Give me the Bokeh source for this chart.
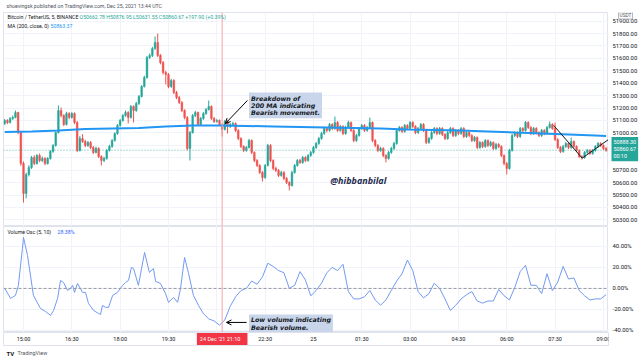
from bokeh.plotting import figure
from bokeh.layouts import column, row
from bokeh.models import (ColumnDataSource, FixedTicker, Span, Label, Arrow, OpenHead, Range1d)
from bokeh.core.properties import value
from bokeh.embed import file_html
from bokeh.resources import INLINE

# ---------------- data (5-minute candles, 24 Dec 14:25 -> 25 Dec 09:05) ----------------
opens = [51076, 51100, 51084, 51116, 51124, 51164, 51003, 50754, 50513, 50666,
         50722, 50802, 50754, 50818, 50778, 50794, 50754, 50794, 50851, 50899,
         51003, 51180, 51140, 51068, 51156, 51124, 51156, 51084, 50859, 50955,
         50931, 50899, 50923, 50883, 50843, 50875, 50810, 50778, 50794, 50859,
         50891, 50939, 50995, 51060, 51100, 51140, 51164, 51124, 51213, 51180,
         51237, 51293, 51374, 51446, 51607, 51623, 51679, 51728, 51623, 51567,
         51486, 51470, 51374, 51422, 51325, 51285, 51245, 51180, 51124, 50875,
         51003, 51140, 51164, 51068, 51116, 51156, 51188, 51213, 51116, 51092,
         51100, 51068, 51028, 51092, 51052, 51068, 51076, 51020, 50955, 50891,
         50859, 50883, 50939, 50843, 50778, 50738, 50682, 50641, 50738, 50899,
         50778, 50714, 50698, 50658, 50682, 50633, 50601, 50577, 50682, 50738,
         50778, 50762, 50802, 50778, 50818, 50843, 50883, 50915, 50955, 50995,
         51036, 51020, 51068, 51036, 51084, 51020, 51052, 50995, 51044, 51084,
         51020, 50939, 50979, 51036, 51060, 51020, 51044, 51084, 50939, 50899,
         50859, 50875, 50818, 50794, 50843, 50875, 50915, 51020, 51044, 51012,
         51060, 51036, 51084, 51052, 51003, 51036, 51068, 51020, 50923, 50955,
         51003, 51036, 50995, 51036, 50987, 50955, 51003, 51036, 50979, 51020,
         50995, 51036, 50971, 51003, 50979, 50939, 50963, 50883, 50923, 50891,
         50939, 50899, 50923, 50875, 50907, 50891, 50818, 50754, 50714, 50859,
         50979, 51003, 50971, 51036, 51020, 51084, 51044, 50995, 51036, 51003,
         50979, 51020, 50995, 51044, 51068, 51036, 50947, 50883, 50851, 50891,
         50915, 50883, 50931, 50891, 50859, 50810, 50802, 50843, 50859, 50835,
         50859, 50891, 50915, 50899, 50875]
closes = [51100, 51084, 51116, 51124, 51164, 51003, 50754, 50513, 50666, 50722,
          50802, 50754, 50818, 50778, 50794, 50754, 50794, 50851, 50899, 51003,
          51180, 51140, 51068, 51156, 51124, 51156, 51084, 50859, 50955, 50931,
          50899, 50923, 50883, 50843, 50875, 50810, 50778, 50794, 50859, 50891,
          50939, 50995, 51060, 51100, 51140, 51164, 51124, 51213, 51180, 51237,
          51293, 51374, 51446, 51607, 51623, 51679, 51728, 51623, 51567, 51486,
          51470, 51374, 51422, 51325, 51285, 51245, 51180, 51124, 50875, 51003,
          51140, 51164, 51068, 51116, 51156, 51188, 51213, 51116, 51092, 51100,
          51068, 51028, 51092, 51052, 51068, 51076, 51020, 50955, 50891, 50859,
          50883, 50939, 50843, 50778, 50738, 50682, 50641, 50738, 50899, 50778,
          50714, 50698, 50658, 50682, 50633, 50601, 50577, 50682, 50738, 50778,
          50762, 50802, 50778, 50818, 50843, 50883, 50915, 50955, 50995, 51036,
          51020, 51068, 51036, 51084, 51020, 51052, 50995, 51044, 51084, 51020,
          50939, 50979, 51036, 51060, 51020, 51044, 51084, 50939, 50899, 50859,
          50875, 50818, 50794, 50843, 50875, 50915, 51020, 51044, 51012, 51060,
          51036, 51084, 51052, 51003, 51036, 51068, 51020, 50923, 50955, 51003,
          51036, 50995, 51036, 50987, 50955, 51003, 51036, 50979, 51020, 50995,
          51036, 50971, 51003, 50979, 50939, 50963, 50883, 50923, 50891, 50939,
          50899, 50923, 50875, 50907, 50891, 50818, 50754, 50714, 50859, 50979,
          51003, 50971, 51036, 51020, 51084, 51044, 50995, 51036, 51003, 50979,
          51020, 50995, 51044, 51068, 51036, 50947, 50883, 50851, 50891, 50915,
          50883, 50931, 50891, 50859, 50810, 50802, 50843, 50859, 50835, 50859,
          50891, 50915, 50899, 50875, 50861]
highs = [51112, 51110, 51128, 51140, 51180, 51170, 51010, 50770, 50680, 50740,
         50815, 50820, 50830, 50835, 50810, 50805, 50805, 50862, 50910, 51012,
         51221, 51205, 51150, 51170, 51168, 51168, 51165, 51095, 50975, 50990,
         50945, 50935, 50935, 50895, 50890, 50885, 50820, 50808, 50870, 50905,
         50950, 51005, 51072, 51112, 51152, 51180, 51175, 51225, 51222, 51250,
         51305, 51385, 51460, 51620, 51640, 51692, 51776, 51800, 51635, 51578,
         51500, 51482, 51435, 51432, 51338, 51298, 51255, 51190, 51135, 51015,
         51152, 51178, 51172, 51128, 51168, 51200, 51261, 51222, 51128, 51112,
         51108, 51078, 51105, 51100, 51080, 51090, 51085, 51030, 50965, 50900,
         50895, 50952, 50948, 50852, 50790, 50748, 50692, 50750, 50912, 50910,
         50788, 50728, 50710, 50695, 50692, 50645, 50612, 50695, 50750, 50790,
         50792, 50815, 50812, 50830, 50855, 50895, 50928, 50968, 51008, 51050,
         51048, 51080, 51078, 51132, 51095, 51065, 51062, 51058, 51098, 51092,
         51030, 50992, 51048, 51072, 51070, 51056, 51124, 51092, 50950, 50910,
         50888, 50885, 50828, 50855, 50888, 50928, 51032, 51056, 51055, 51072,
         51070, 51096, 51094, 51062, 51048, 51080, 51078, 51030, 50968, 51015,
         51048, 51046, 51048, 51046, 50998, 51015, 51048, 51046, 51032, 51030,
         51048, 51046, 51015, 51012, 50990, 50975, 50972, 50935, 50932, 50950,
         50948, 50935, 50932, 50920, 50918, 50900, 50828, 50765, 50872, 50992,
         51015, 51012, 51048, 51046, 51096, 51094, 51054, 51048, 51046, 51012,
         51032, 51030, 51056, 51092, 51078, 51084, 50958, 50894, 50903, 50926,
         50925, 50963, 50940, 50900, 50868, 50820, 50855, 50870, 50868, 50870,
         50902, 50926, 50925, 50908, 50888]
lows = [51064, 51072, 51076, 51104, 51118, 50990, 50735, 50440, 50473, 50650,
        50710, 50740, 50745, 50765, 50765, 50740, 50745, 50785, 50840, 50890,
        50995, 51125, 51055, 51060, 51110, 51115, 51070, 50845, 50850, 50920,
        50885, 50888, 50870, 50830, 50835, 50798, 50738, 50765, 50785, 50850,
        50880, 50930, 50985, 51050, 51090, 51130, 51076, 51115, 51084, 51170,
        51225, 51285, 51365, 51436, 51595, 51610, 51668, 51610, 51552, 51470,
        51390, 51360, 51362, 51312, 51272, 51232, 51168, 51110, 50859, 50778,
        50995, 51128, 51055, 51060, 51105, 51145, 51180, 51105, 51080, 51082,
        51055, 50971, 51020, 50995, 51040, 51058, 51008, 50942, 50878, 50845,
        50848, 50875, 50830, 50765, 50725, 50670, 50609, 50630, 50730, 50765,
        50700, 50685, 50645, 50648, 50620, 50588, 50537, 50568, 50672, 50728,
        50750, 50752, 50765, 50768, 50808, 50832, 50872, 50905, 50945, 50985,
        51005, 51010, 51022, 51025, 51008, 51010, 50982, 50985, 51035, 51008,
        50925, 50928, 50970, 51025, 51008, 51010, 51035, 50925, 50885, 50845,
        50848, 50805, 50762, 50785, 50832, 50865, 50905, 51010, 51000, 51002,
        51025, 51026, 51040, 50990, 50992, 51025, 51008, 50910, 50912, 50945,
        50992, 50982, 50985, 50975, 50942, 50945, 50992, 50966, 50968, 50982,
        50985, 50958, 50960, 50966, 50926, 50928, 50870, 50872, 50878, 50880,
        50886, 50888, 50862, 50865, 50878, 50805, 50740, 50666, 50705, 50850,
        50968, 50958, 50960, 51008, 51010, 51032, 50982, 50985, 50990, 50966,
        50968, 50982, 50985, 51035, 51025, 50935, 50870, 50838, 50840, 50880,
        50870, 50872, 50878, 50846, 50798, 50786, 50792, 50832, 50822, 50825,
        50848, 50880, 50886, 50862, 50848]

# 200-period moving average, read every 10 candles
ma_idx = [0, 10, 20, 30, 40, 50, 60, 70, 80, 90, 100, 110, 120, 130, 140, 150, 160,
          170, 180, 190, 200, 210, 220, 224]
ma_vals = [51008, 51012, 51020, 51032, 51036, 51040, 51052, 51060, 51060, 51056, 51052,
           51048, 51044, 51040, 51036, 51028, 51024, 51020, 51012, 51003, 50995, 50987,
           50979, 50975]

# Volume oscillator (%), read at the candle positions below
osc_idx = [0, 2.2, 4.0, 5.1, 6.6, 7.0, 8.5, 10.7, 13.3, 15.2, 17.1, 18.2, 19.7, 20.8, 21.9,
           23.4, 24.5, 25.3, 26.0, 27.1, 29.0, 30.1, 31.2, 33.1, 34.9, 35.7, 36.4, 37.5, 38.7,
           40.2, 42.0, 43.9, 45.0, 46.1, 47.2, 48.0, 49.8, 52.1, 53.9, 55.4, 56.2, 58.0, 59.9,
           61.0, 62.9, 64.4, 65.5, 67.0, 68.4, 70.3, 72.2,
           74, 76, 78, 80, 82, 84, 86, 88, 90, 92, 94, 96, 98, 100, 102, 104, 106, 108, 110,
           112, 114, 116, 118, 120, 122, 124, 126, 128, 130, 132, 134, 136, 138, 140, 142, 144,
           146, 148, 150, 152, 154, 156, 158, 160, 162, 164, 166, 168, 170, 172, 174, 176, 178,
           180, 182, 184, 186, 188, 190, 192, 194, 196, 198, 200, 202, 204, 206, 208, 210, 212,
           214, 216, 218, 220, 222, 224]
osc_vals = [0, -9.5, -6.7, 2.9, 38, 48.6, 31.4, -6.7, -19, -22, -25.7, -21, -9.5, 7.6, 5.7,
            -1.9, 0, 2.9, -3.8, 4.8, -3.8, -3.8, -14.3, -21, -23.8, -24.8, -16.2, -18, -18,
            -6.7, -3.8, 2.9, 5.7, 7.6, 20, 19, 2.9, 34.3, 15.2, 19, 6.7, 4.8, -4.8,
            -13.3, -8.6, -13.3, 0, 29.5, 15.2, -6.7, -16.2,
            -24, -29, -31, -35, -30, -17, -8, -2, 0, 7, 4, 11, 24, 21, 17, 15, 0, 3, 16,
            8, -7, -2, 5, 15, 20, 17, 23, -3, -10, -10, -8, -2, -11, -16, -11, -2,
            7, 14, 27, 17, -3, -9, -5, 5, 0, -10, -21, -16, -10, -6, -3, -12, -14,
            -12, -12, -1, -7, -11, 1, 16, 22, 3, 3, -5, 14, -2, 6, 21, 9, 10,
            -2, -7, -11, -10, -10, -6]

# drawn trend line (candle index, price)
trend_x = [204.5, 215.1, 224.9]
trend_y = [51060, 50797, 50947]

tick_idx = [7, 25, 43, 61, 79, 97, 115, 133, 151, 169, 187, 205, 223]
tick_labels = ["15:00", "16:30", "18:00", "19:30", "21:00", "22:30", "25", "01:30",
               "03:00", "04:30", "06:00", "07:30", "09:00"]
price_ticks = [50300, 50400, 50500, 50600, 50700, 50800, 50900, 51000, 51100, 51200,
               51300, 51400, 51500, 51600, 51700, 51800, 51900]
price_tick_labels = ["50300.00", "50400.00", "50500.00", "50600.00", "50700.00", "50800.00",
                     "50900.00", "51000.00", "51100.00", "51200.00", "51300.00", "51400.00",
                     "51500.00", "51600.00", "51700.00", "51800.00", "51900.00"]
osc_ticks = [-40, -20, 0, 20, 40]
osc_tick_labels = ["-40.00%", "-20.00%", "0.00%", "20.00%", "40.00%"]
cursor_idx = 81  # 24 Dec 21:10

# ---------------- styling ----------------
UP, DOWN = "#26a69a", "#ef5350"
GRID, OUTLINE = "#f0f3fa", "#e0e3eb"
TXT = "#131722"
FONT = "Roboto"
LEFT, FW, AXW = 3, 605, 32
H_HDR, FH1, FH2, H_TIME, H_LOGO = 12, 214, 106, 14, 13


def bare(fw, fh, xr, yr, left=0, right=0, outline=None):
    f = figure(frame_width=fw, frame_height=fh, x_range=xr, y_range=yr,
               x_axis_location=None, y_axis_location=None,
               output_backend="svg", toolbar_location=None,
               min_border=0, min_border_left=left, min_border_right=right,
               min_border_top=0, min_border_bottom=0,
               background_fill_color="white", border_fill_color="white",
               outline_line_color=outline)
    f.xgrid.grid_line_color = None
    f.ygrid.grid_line_color = None
    return f


def lab(fig, x, y, text, size, color=TXT, align="left", baseline="middle", style="normal",
        bg=None, pad=0, border=None, font=FONT, lh=1.2):
    fig.add_layout(Label(x=x, y=y, text=text, text_font=font, text_font_size=size,
                         text_color=color, text_align=align, text_baseline=baseline,
                         text_font_style=style, text_line_height=lh,
                         background_fill_color=bg, padding=pad, border_line_color=border))


def texts(fig, xs, ys, labels, size, align="left", color=TXT):
    fig.text(x=xs, y=ys, text=labels, text_font=value(FONT), text_font_size=value(size),
             text_color=color, text_align=value(align), text_baseline=value("middle"))


idx = list(range(len(closes)))
src = ColumnDataSource(dict(
    x=idx, h=highs, l=lows,
    top=[max(o, c) for o, c in zip(opens, closes)],
    bottom=[min(o, c) for o, c in zip(opens, closes)],
    color=[UP if c >= o else DOWN for o, c in zip(opens, closes)],
))

xr = Range1d(-0.45, 224.9)
yr_price = Range1d(50247, 51969)
yr_osc = Range1d(-42, 59)

# ---------------- header strip ----------------
hdr = bare(LEFT + FW + AXW, H_HDR, Range1d(0, LEFT + FW + AXW), Range1d(0, H_HDR))
lab(hdr, 3, 6.5, "shoevingsk published on TradingView.com, Dec 25, 2021 13:44 UTC", "5.2px",
    color="#50535e")

# ---------------- price panel ----------------
p = bare(FW, FH1, xr, yr_price, left=LEFT, outline=OUTLINE)
p.xgrid.ticker = FixedTicker(ticks=tick_idx)
p.ygrid.ticker = FixedTicker(ticks=price_ticks)
p.xgrid.grid_line_color = GRID
p.ygrid.grid_line_color = GRID

p.add_layout(Span(location=cursor_idx, dimension="height", line_color="#f7a3a3", line_width=1))
p.add_layout(Span(location=closes[-1], dimension="width", line_color=UP, line_dash="1 2",
                  line_width=1, line_alpha=0.8))
p.segment(x0="x", y0="l", x1="x", y1="h", line_color="color", line_width=1, source=src)
p.vbar(x="x", width=0.62, top="top", bottom="bottom", fill_color="color",
       line_color="color", line_width=0.5, source=src)
p.line(ma_idx, ma_vals, line_color="#2196f3", line_width=2)
p.line(trend_x, trend_y, line_color="#131722", line_width=1)

lab(p, 1.0, 51929, "Bitcoin / TetherUS, 5, BINANCE", "5.2px")
lab(p, 27.9, 51929, "O50662.78  H50876.95  L50631.55  C50860.67  +197.90 (+0.39%)", "5.2px",
    color=UP)
lab(p, 1.0, 51864, "MA (200, close, 0)", "5.2px")
lab(p, 17.1, 51864, "50863.37", "5.2px", color="#2196f3")
lab(p, 91.0, 51325, "Breakdown of\n200 MA indicating\nBearish movement.", "6.3px",
    baseline="top", style="bold italic", bg="#c8d5ea", pad=2, font="DejaVu Sans", lh=1.05)
p.add_layout(Arrow(end=OpenHead(size=5, line_color="black", line_width=1),
                   x_start=90.4, y_start=51261, x_end=82.2, y_end=51076,
                   line_color="black", line_width=1))
lab(p, 121.3, 50617, "@hibbanbilal", "9px", color="#1d2b50", style="bold italic",
    font="Open Sans")

# price axis column
pa = bare(AXW, FH1, Range1d(0, AXW), yr_price)
texts(pa, [4] * len(price_ticks), price_ticks, price_tick_labels, "5.9px")
lab(pa, 3, 50870, "50888.30\n50860.67\n00:10", "5.4px", color="white", bg=UP, pad=2)
lab(pa, 17, 51945, "USDT", "4.8px", color="#50535e", align="center", bg="white",
    pad=1, border="#b2b5be")

# ---------------- oscillator panel ----------------
p2 = bare(FW, FH2, xr, yr_osc, left=LEFT, outline=OUTLINE)
p2.xgrid.ticker = FixedTicker(ticks=tick_idx)
p2.ygrid.ticker = FixedTicker(ticks=osc_ticks)
p2.xgrid.grid_line_color = GRID
p2.ygrid.grid_line_color = GRID
p2.add_layout(Span(location=0, dimension="width", line_color="#9598a1", line_dash="3 2",
                   line_width=1))
p2.add_layout(Span(location=cursor_idx, dimension="height", line_color="#f7a3a3", line_width=1))
p2.line(osc_idx, osc_vals, line_color="#7399f2", line_width=1)

lab(p2, 1.0, 53.3, "Volume Osc (5, 10)", "5.2px")
lab(p2, 19.7, 53.3, "28.38%", "5.2px", color="#2962ff")
lab(p2, 91.0, -24.8, "Low volume indicating\nBearish volume.", "6.3px", baseline="top",
    style="bold italic", bg="#c8d5ea", pad=2, font="DejaVu Sans", lh=1.05)
p2.add_layout(Arrow(end=OpenHead(size=5, line_color="black", line_width=1),
                    x_start=90.1, y_start=-32.4, x_end=82.6, y_end=-32.4,
                    line_color="black", line_width=1))

pb = bare(AXW, FH2, Range1d(0, AXW), yr_osc)
texts(pb, [4] * len(osc_ticks), osc_ticks, osc_tick_labels, "5.9px")

# ---------------- time axis strip ----------------
p3 = bare(FW, H_TIME, xr, Range1d(0, H_TIME), left=LEFT, right=AXW, outline=OUTLINE)
texts(p3, tick_idx, [7.5] * len(tick_idx), tick_labels, "5.5px", align="center")
lab(p3, cursor_idx, 7.5, "24 Dec '21    21:10", "5.5px", color="white", align="center",
    bg="#f23645", pad=3)

# ---------------- footer ----------------
ftr = bare(LEFT + FW + AXW, H_LOGO, Range1d(0, LEFT + FW + AXW), Range1d(0, H_LOGO))
lab(ftr, 3, 6.5, "TV", "6px", style="bold")
lab(ftr, 14, 6.5, "TradingView", "5.4px", color="#50535e")

layout = column(hdr, row(p, pa, spacing=0), row(p2, pb, spacing=0), p3, ftr, spacing=0)
open("out.html", "w").write(file_html(layout, INLINE))
